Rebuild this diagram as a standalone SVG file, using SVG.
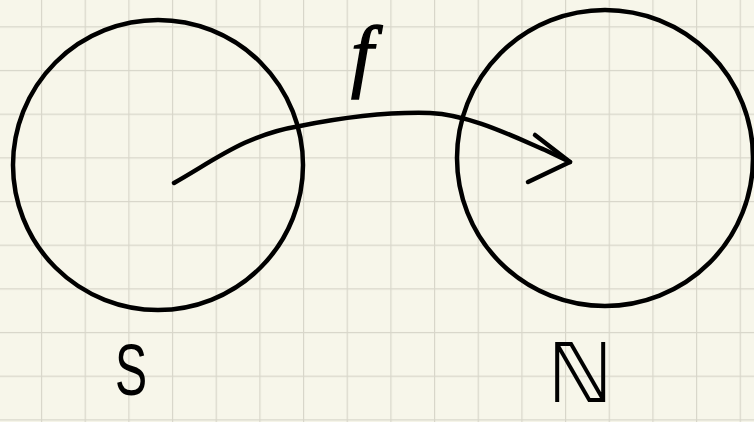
<svg xmlns="http://www.w3.org/2000/svg" width="754" height="422" viewBox="0 0 754 422">
<style>
.ink{fill:none;stroke:#000;stroke-width:4.5;stroke-linecap:round;stroke-linejoin:round}
.lbl{fill:#000}
</style>
<defs>
<pattern id="grid" patternUnits="userSpaceOnUse" x="-2.7" y="-17.4" width="43.67" height="43.67">
<path d="M0.5 0V43.67M0 0.5H43.67" stroke="#d8d6ca" stroke-width="1.4" fill="none"/>
</pattern>
</defs>
<rect width="754" height="422" fill="#f7f6ea"/>
<rect width="754" height="422" fill="url(#grid)"/>
<g id="S">
<circle class="ink" cx="158" cy="165" r="145"/>
<text class="lbl" transform="translate(131,395) scale(0.66,1)" text-anchor="middle" font-family="Liberation Sans, sans-serif" font-size="73">S</text>
</g>
<g id="N">
<circle class="ink" cx="605" cy="158" r="148"/>
<text class="lbl" x="580" y="402" text-anchor="middle" font-family="DejaVu Sans, sans-serif" font-size="82">ℕ</text>
</g>
<g id="connectors">
<path class="ink" d="M174 183C215 160 245 135 300 126C350 116 395 112 430 113C470 115 510 135 545 150L570 162"/>
<path class="ink" d="M535 135L570 162L528 182"/>
<text class="lbl" x="362" y="82" text-anchor="middle" font-family="Liberation Serif, serif" font-style="italic" font-size="80" stroke="#000" stroke-width="1.5">f</text>
</g>
</svg>
